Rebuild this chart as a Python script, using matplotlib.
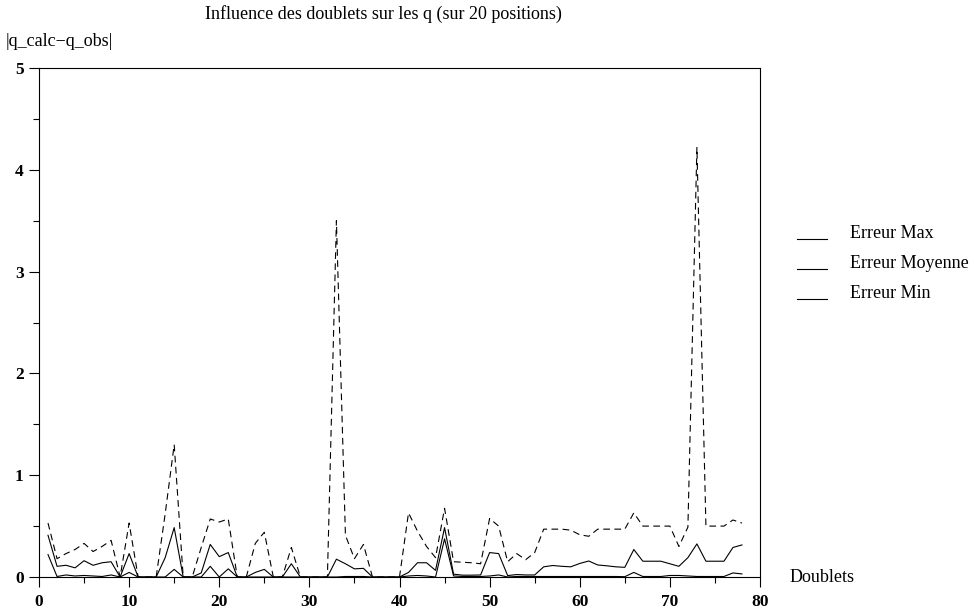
import numpy as np
import matplotlib
matplotlib.use('Agg')
import matplotlib.pyplot as plt
from matplotlib.lines import Line2D

plt.rcParams['font.family'] = ['Liberation Serif', 'DejaVu Serif']

# doublet index 1..78
doublets = np.arange(1, 79)

err_max = [0.53, 0.18, 0.23, 0.27, 0.33, 0.25, 0.30, 0.36, 0.0, 0.53,
           0.0, 0.0, 0.0, 0.62, 1.30, 0.0, 0.0, 0.29, 0.57, 0.54,
           0.57, 0.0, 0.0, 0.33, 0.44, 0.0, 0.0, 0.29, 0.0, 0.0,
           0.0, 0.0, 3.50, 0.41, 0.18, 0.32, 0.0, 0.0, 0.0, 0.0,
           0.63, 0.45, 0.30, 0.19, 0.675, 0.15, 0.145, 0.14, 0.13, 0.575,
           0.50, 0.15, 0.23, 0.17, 0.24, 0.47, 0.47, 0.47, 0.46, 0.415,
           0.40, 0.47, 0.47, 0.47, 0.47, 0.63, 0.50, 0.50, 0.50, 0.50,
           0.30, 0.49, 4.22, 0.50, 0.50, 0.50, 0.56, 0.53]

err_moy = [0.41, 0.105, 0.115, 0.09, 0.16, 0.115, 0.14, 0.15, 0.0, 0.23,
           0.0, 0.0, 0.0, 0.19, 0.485, 0.0, 0.0, 0.04, 0.32, 0.20,
           0.24, 0.0, 0.0, 0.045, 0.075, 0.0, 0.0, 0.13, 0.0, 0.0,
           0.0, 0.0, 0.175, 0.13, 0.08, 0.085, 0.0, 0.0, 0.0, 0.0,
           0.045, 0.14, 0.14, 0.065, 0.485, 0.028, 0.018, 0.018, 0.02, 0.24,
           0.23, 0.014, 0.024, 0.02, 0.02, 0.10, 0.113, 0.105, 0.10, 0.133,
           0.157, 0.118, 0.11, 0.10, 0.095, 0.27, 0.155, 0.155, 0.155, 0.13,
           0.105, 0.19, 0.325, 0.155, 0.155, 0.155, 0.29, 0.315]

err_min = [0.22, 0.005, 0.02, 0.01, 0.015, 0.01, 0.005, 0.02, 0.0, 0.045,
           0.0, 0.0, 0.0, 0.0, 0.075, 0.0, 0.0, 0.0, 0.105, 0.0,
           0.08, 0.0, 0.0, 0.0, 0.0, 0.0, 0.0, 0.0, 0.0, 0.0,
           0.0, 0.0, 0.0, 0.005, 0.005, 0.005, 0.0, 0.0, 0.0, 0.0,
           0.01, 0.015, 0.01, 0.0, 0.375, 0.01, 0.005, 0.005, 0.005, 0.01,
           0.02, 0.0, 0.005, 0.005, 0.005, 0.005, 0.005, 0.005, 0.005, 0.005,
           0.005, 0.005, 0.005, 0.005, 0.003, 0.045, 0.005, 0.005, 0.005, 0.015,
           0.015, 0.01, 0.005, 0.005, 0.005, 0.005, 0.04, 0.03]

legend_labels = ["Erreur Max", "Erreur Moyenne", "Erreur Min"]

fig = plt.figure(figsize=(9.74, 6.15), dpi=100)
ax = fig.add_axes([39/974, 38/615, 721/974, 509/615])

ax.plot(doublets, err_max, color='black', lw=0.8, linestyle=(0, (6, 4)))
ax.plot(doublets, err_moy, color='black', lw=0.8)
ax.plot(doublets, err_min, color='black', lw=0.8)

ax.set_xlim(0, 80)
ax.set_ylim(0, 5)
ax.set_xticks(np.arange(0, 81, 10))
ax.set_xticks(np.arange(5, 80, 10), minor=True)
ax.set_yticks(np.arange(0, 6, 1))
ax.set_yticks(np.arange(0.5, 5, 1), minor=True)
ax.tick_params(which='major', direction='out', length=7, width=0.8,
               labelsize=12.5)
ax.tick_params(axis='x', which='major', pad=5)
ax.tick_params(axis='y', which='major', pad=4)
ax.tick_params(which='minor', direction='out', length=4, width=0.8)
for lab in ax.get_xticklabels() + ax.get_yticklabels():
    lab.set_fontweight('bold')
for sp in ax.spines.values():
    sp.set_linewidth(0.8)

fig.text(383/974, 1 - 14/615, "Influence des doublets sur les q (sur 20 positions)",
         ha='center', va='center', fontsize=13)
fig.text(6/974, 1 - 41/615, "|q_calc\u2212q_obs|", ha='left', va='center', fontsize=13)
fig.text(790/974, 1 - 578/615, "Doublets", ha='left', va='center', fontsize=13)

for i, lab in enumerate(legend_labels):
    yc = 234 + 30 * i
    fig.add_artist(Line2D([797/974, 827/974], [1 - (yc + 5)/615, 1 - (yc + 5)/615],
                          color='black', lw=0.8))
    fig.text(850/974, 1 - yc/615, lab, ha='left', va='center', fontsize=13)

fig.savefig("out.png", dpi=100)
